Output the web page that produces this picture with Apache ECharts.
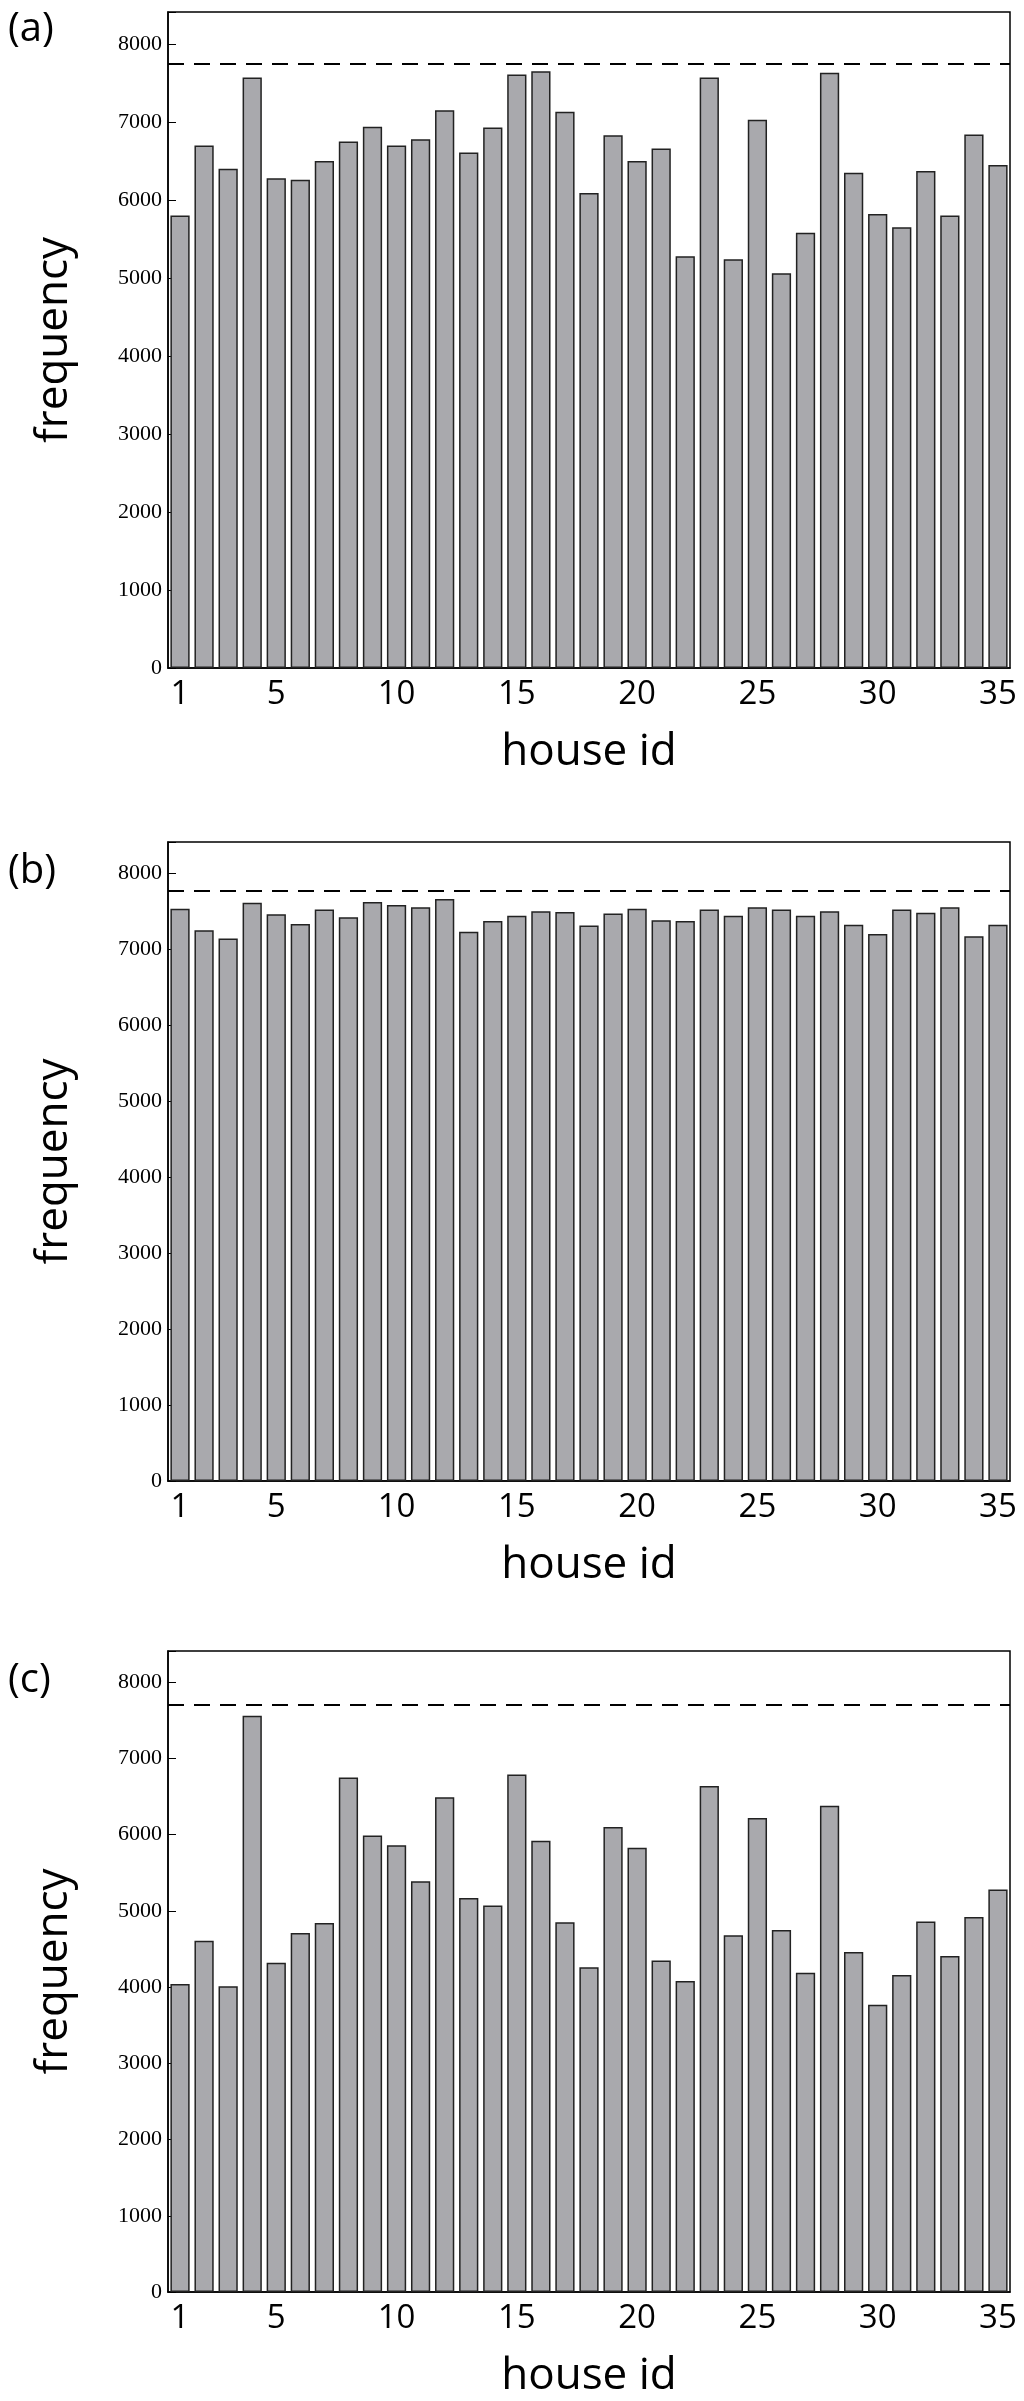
<!DOCTYPE html>
<html><head><meta charset="utf-8">
<script src="https://cdn.jsdelivr.net/npm/echarts@6/dist/echarts.min.js"></script>
<style>html,body{margin:0;padding:0;background:#fff}#c{width:1024px;height:2401px}</style>
</head><body><div id="c"></div>
<script>
const houseIds = Array.from({length:35},(_,i)=>String(i+1));
const freqA = [5800,6700,6400,7570,6280,6260,6500,6750,6940,6700,6780,7150,6610,6930,7610,7650,7130,6090,6830,6500,6660,5280,7570,5240,7030,5060,5580,7630,6350,5820,5650,6370,5800,6840,6450];
const freqB = [7530,7250,7140,7610,7460,7330,7520,7420,7620,7580,7550,7660,7230,7370,7440,7500,7490,7310,7470,7530,7380,7370,7520,7440,7550,7520,7440,7500,7320,7200,7520,7480,7550,7170,7320];
const freqC = [4040,4610,4010,7560,4320,4710,4840,6750,5990,5860,5390,6490,5170,5070,6790,5920,4850,4260,6100,5830,4350,4080,6640,4680,6220,4750,4190,6380,4460,3770,4160,4860,4410,4920,5280];
const refLines = [7744,7770,7710];
const yTicks = [0,1000,2000,3000,4000,5000,6000,7000,8000];
const panelLabels = ['(a)','(b)','(c)'];
const series = [freqA,freqB,freqC];
const grids = [{top:12,height:656},{top:842,height:639},{top:1651,height:641}];

const chart = echarts.init(document.getElementById('c'));
const opt = {animation:false,grid:[],xAxis:[],yAxis:[],series:[],graphic:[]};
grids.forEach((g,k)=>{
  opt.grid.push({left:168,right:14,top:g.top,height:g.height,show:true,borderColor:'#000',borderWidth:1.5,backgroundColor:'transparent'});
  opt.xAxis.push({type:'category',gridIndex:k,data:houseIds,boundaryGap:true,
    axisLine:{lineStyle:{color:'#000',width:1.5}},
    axisTick:{show:false},
    axisLabel:{interval:(i)=>i===0||(i+1)%5===0,fontFamily:'Open Sans',fontSize:33,color:'#000',margin:10},
    name:'house id',nameLocation:'middle',nameGap:62,nameTextStyle:{fontFamily:'Open Sans',fontSize:44,color:'#000'}});
  opt.yAxis.push({type:'value',gridIndex:k,min:0,max:8410,interval:1000,
    axisLine:{show:true,lineStyle:{color:'#000',width:1.5}},
    axisTick:{show:true,inside:true,length:8,lineStyle:{color:'#000'}},
    splitLine:{show:false},
    axisLabel:{fontFamily:'Liberation Serif',fontSize:22,color:'#000',margin:6,
      formatter:(v)=>yTicks.includes(v)?String(v):''},
    name:'frequency',nameLocation:'middle',nameGap:92,nameTextStyle:{fontFamily:'Open Sans',fontSize:44,color:'#000'}});
  opt.series.push({type:'bar',xAxisIndex:k,yAxisIndex:k,data:series[k],barCategoryGap:'20%',
    itemStyle:{color:'#a9a9ad',borderColor:'#222',borderWidth:1.5},
    markLine:{silent:true,symbol:'none',label:{show:false},
      lineStyle:{color:'#000',type:[16,10],width:2},data:[{yAxis:refLines[k]}]}});
  opt.graphic.push({type:'text',left:8,top:g.top+(k===0?-2:10),style:{text:panelLabels[k],font:'40px "Open Sans"',fill:'#000'}});
});
chart.setOption(opt);
</script></body></html>
